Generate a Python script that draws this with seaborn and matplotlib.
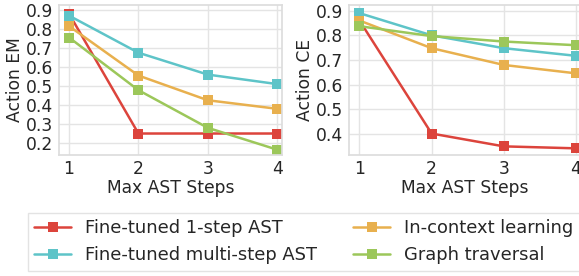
import matplotlib
matplotlib.use("Agg")
import matplotlib.pyplot as plt
import pandas as pd
import seaborn as sns

# ── Data ─────────────────────────────────────────────────────────────────────
steps = [1, 2, 3, 4]
methods = [
    "Fine-tuned 1-step AST",
    "Fine-tuned multi-step AST",
    "In-context learning",
    "Graph traversal",
]
colors = ["#dc443c", "#5ec4c8", "#e8b04e", "#9cc75a"]

em_one_step = [0.88, 0.25, 0.25, 0.25]
em_multi_step = [0.87, 0.675, 0.56, 0.51]
em_icl = [0.815, 0.555, 0.425, 0.38]
em_graph = [0.755, 0.478, 0.28, 0.165]

ce_one_step = [0.86, 0.402, 0.35, 0.342]
ce_multi_step = [0.89, 0.80, 0.748, 0.717]
ce_icl = [0.86, 0.748, 0.68, 0.646]
ce_graph = [0.837, 0.797, 0.775, 0.76]


def long_table(series):
    rows = []
    for name, vals in zip(methods, series):
        for s, v in zip(steps, vals):
            rows.append({"step": s, "value": v, "method": name})
    return pd.DataFrame(rows)


em_df = long_table([em_one_step, em_multi_step, em_icl, em_graph])
ce_df = long_table([ce_one_step, ce_multi_step, ce_icl, ce_graph])

# ── Style ────────────────────────────────────────────────────────────────────
sns.set_theme(style="whitegrid")
plt.rcParams.update({
    "axes.labelsize": 12.3,
    "xtick.labelsize": 12.3,
    "ytick.labelsize": 12.3,
    "axes.edgecolor": "#dddddd",
    "grid.color": "#e4e4e4",
    "text.color": "#262626",
    "axes.labelcolor": "#262626",
    "xtick.color": "#262626",
    "ytick.color": "#262626",
})
plt.rcParams["font.family"] = ["DejaVu Sans"]

fig = plt.figure(figsize=(5.79, 2.76), dpi=100)
ax_em = fig.add_axes([59 / 579, 1 - 155 / 276, 223 / 579, 150 / 276])
ax_ce = fig.add_axes([349 / 579, 1 - 155 / 276, 232 / 579, 150 / 276])
palette = dict(zip(methods, colors))

for ax, df, ylabel in [(ax_em, em_df, "Action EM"), (ax_ce, ce_df, "Action CE")]:
    sns.lineplot(
        data=df, x="step", y="value", hue="method", hue_order=methods,
        palette=palette, marker="s", markersize=7.5, markeredgewidth=0,
        linewidth=1.8, ax=ax, legend=(ax is ax_em),
    )
    ax.set_xticks(steps)
    ax.set_xlim(0.855, 4.07)
    ax.set_xlabel("Max AST Steps", labelpad=0.5)
    ax.set_ylabel(ylabel, labelpad=1)
    ax.tick_params(axis="x", length=0, pad=3.5)
    ax.tick_params(axis="y", length=0, pad=4.3)

ax_em.set_yticks([0.2, 0.3, 0.4, 0.5, 0.6, 0.7, 0.8, 0.9])
ax_em.set_ylim(0.137, 0.926)
ax_ce.set_yticks([0.4, 0.5, 0.6, 0.7, 0.8, 0.9])
ax_ce.set_ylim(0.315, 0.923)

handles, labels = ax_em.get_legend_handles_labels()
ax_em.get_legend().remove()
fig.legend(
    handles, labels, loc="upper left", ncol=2, frameon=True,
    bbox_to_anchor=(27.5 / 579, 1 - 213 / 276), fontsize=12.9,
    handlelength=2.1, handletextpad=0.78, columnspacing=1.98,
    borderpad=0.35, labelspacing=0.5, borderaxespad=0,
    fancybox=False, edgecolor="#dddddd",
)

fig.savefig("out.png", dpi=100)
